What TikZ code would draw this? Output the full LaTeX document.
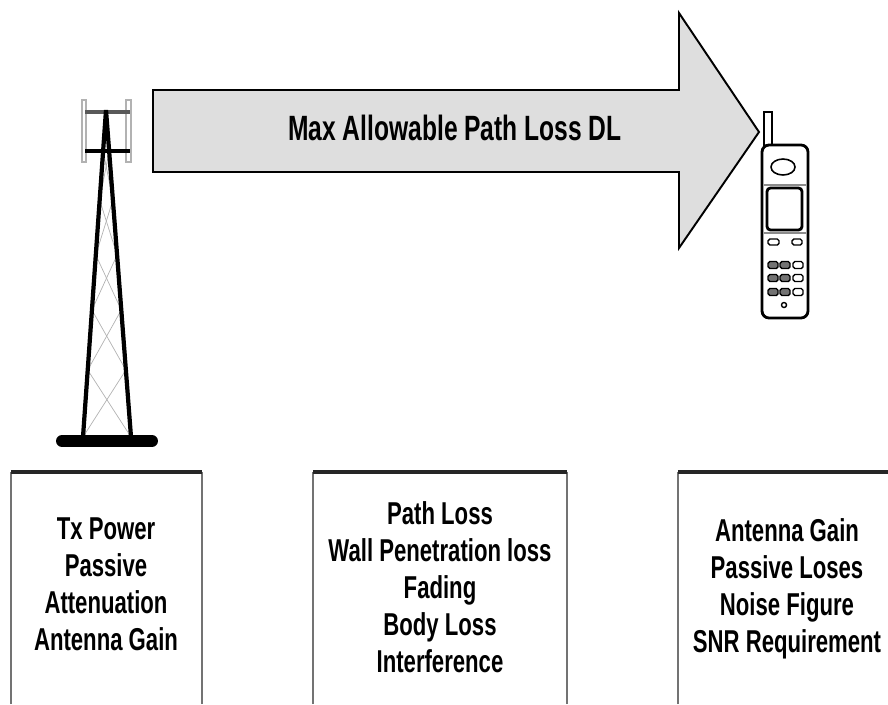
\documentclass[tikz,border=0pt]{standalone}
\usepackage{fontspec}
\setmainfont{Liberation Sans}[FakeStretch=0.70]
\usepackage{tikz}

\begin{document}
\begin{tikzpicture}[x=0.02cm, y=-0.02cm,
  boxtext/.style={align=center, font=\fontsize{18}{21}\selectfont\bfseries},
  boxline/.style={draw=black!55, line width=0.8pt},
  boxtop/.style={draw=black!85, line width=1.8pt},
  lattice/.style={draw=black!30, line width=0.4pt},
  key/.style={line width=0.8pt, rounded corners=1pt}]
\useasboundingbox (0,0) rectangle (888,704);

% --- Path loss arrow ---
\draw[fill=black!13, line width=1.1pt, line join=miter]
  (153,90) -- (679,90) -- (679,13) -- (759,132) -- (679,248) -- (679,172) -- (153,172) -- cycle;
\node[font=\fontsize{20}{21}\selectfont\bfseries] (pathloss) at (455,128) {Max Allowable Path Loss DL};

% --- Tower ---
\begin{scope}
\draw[black!30, line width=0.6pt] (82,100) rectangle (86,162);
\draw[black!30, line width=0.6pt] (126,100) rectangle (131,162);
\foreach \ya/\yb in {151/200, 200/255, 255/310, 310/370, 370/437} {
  \draw[lattice] ({106-23*(\ya-110)/327},\ya) -- ({106+25*(\yb-110)/327},\yb);
  \draw[lattice] ({106+25*(\ya-110)/327},\ya) -- ({106-23*(\yb-110)/327},\yb);
}
\draw[black!65, line width=2pt] (85,112) -- (130,112);
\draw[black, line width=2.4pt] (85,151) -- (130,151);
\draw[line width=2.4pt] (83,437) -- (106,110) -- (131,437);
\draw[line width=6.8pt, line cap=round] (62,441) -- (152,441);
\end{scope}

% --- Handset ---
\begin{scope}
\draw[fill=white, line width=1pt] (764,112) rectangle (772,148);
\draw[fill=white, line width=1.6pt, rounded corners=4pt] (762,145) rectangle (808,318);
\draw[line width=0.9pt] (783,167) ellipse [x radius=12, y radius=8];
\draw[black!45, line width=0.8pt] (764,185) -- (806,185);
\draw[black!45, line width=0.8pt] (764,233) -- (806,233);
\draw[line width=1.6pt, rounded corners=2pt] (767,188) rectangle (802,230);
\draw[key] (768,239) rectangle (779,245);
\draw[key] (792,239) rectangle (802,245);
\foreach \ky in {265,278,292} {
  \foreach \kx/\kc in {773/black!55, 785/black!55, 798/white}
    \draw[key, fill=\kc] (\kx-5,\ky-3.5) rectangle (\kx+5,\ky+3.5);
}
\draw[line width=0.8pt] (784,305) circle [radius=2.5];
\end{scope}

% --- Budget boxes ---
\draw[boxline] (11,704) -- (11,472);
\draw[boxline] (202,704) -- (202,472);
\draw[boxtop] (11,472) -- (202,472);
\node[boxtext] (txside) at (106,584) {Tx Power\\Passive\\Attenuation\\Antenna Gain};

\draw[boxline] (313,704) -- (313,472);
\draw[boxline] (567,704) -- (567,472);
\draw[boxtop] (313,472) -- (567,472);
\node[boxtext] (lossside) at (440,587) {Path Loss\\Wall Penetration loss\\Fading\\Body Loss\\Interference};

\draw[boxline] (678,704) -- (678,472);
\draw[boxtop] (678,472) -- (895,472);
\node[boxtext] (rxside) at (787,589) {Antenna Gain\\Passive Loses\\Noise Figure\\SNR Requirement};
\end{tikzpicture}
\end{document}
